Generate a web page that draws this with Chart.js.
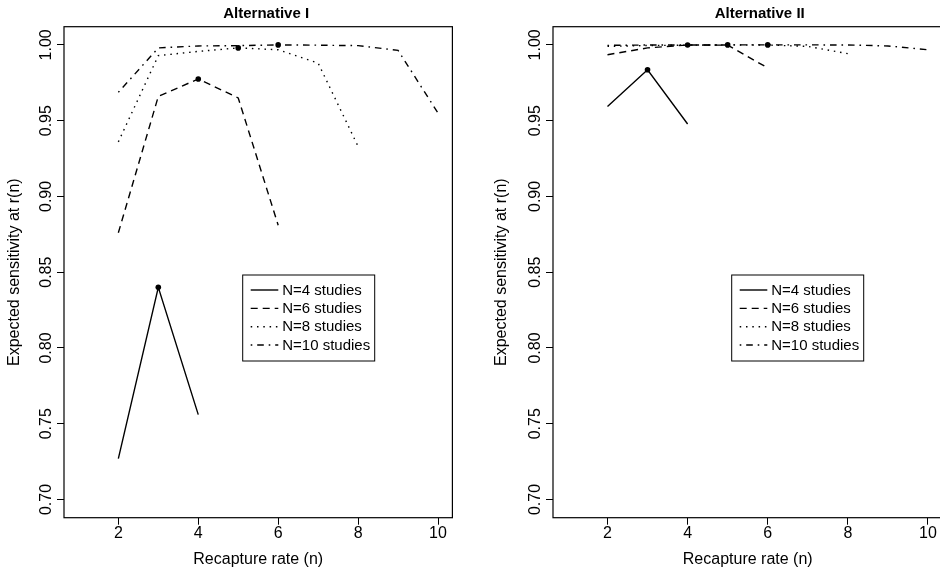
<!DOCTYPE html>
<html><head><meta charset="utf-8">
<script src="https://cdn.jsdelivr.net/npm/chart.js@4/dist/chart.umd.min.js"></script>
<style>
html,body{margin:0;padding:0;background:#fff;overflow:hidden;width:940px;height:573px;position:relative;}
.w{position:absolute;top:0;height:573px;}
</style></head><body>
<div class="w" style="left:0;width:470px"><canvas id="c1" width="470" height="573"></canvas></div>
<div class="w" style="left:470px;width:490px"><canvas id="c2" width="490" height="573"></canvas></div>
<script>
// ---- data ----
const panelTitles = ['Alternative I', 'Alternative II'];
const seriesLabels = ['N=4 studies', 'N=6 studies', 'N=8 studies', 'N=10 studies'];
const n4 = [2, 3, 4];
const n6 = [2, 3, 4, 5, 6];
const n8 = [2, 3, 4, 5, 6, 7, 8];
const n10 = [2, 3, 4, 5, 6, 7, 8, 9, 10];
const altI_N4 = [0.727, 0.840, 0.756];
const altI_N6 = [0.876, 0.966, 0.9775, 0.965, 0.881];
const altI_N8 = [0.936, 0.9929, 0.9957, 0.998, 0.9968, 0.988, 0.933];
const altI_N10 = [0.9687, 0.998, 0.9993, 0.9995, 1.0, 0.9998, 0.9995, 0.9964, 0.955];
const altII_N4 = [0.9594, 0.9836, 0.9478];
const altII_N6 = [0.9935, 0.998, 0.99995, 0.9998, 0.9848];
const altII_N8 = [0.999, 0.9996, 0.9998, 1.0, 0.9999, 0.999, 0.9942];
const altII_N10 = [0.9997, 0.9999, 0.99995, 0.99997, 1.0, 0.99998, 0.99996, 0.9993, 0.9968];
const xTicks = [2, 4, 6, 8, 10];
const yTicks = [0.70, 0.75, 0.80, 0.85, 0.90, 0.95, 1.00];
const xTitle = 'Recapture rate (n)';
const yTitle = 'Expected sensitivity at r(n)';

// ---- styles ----
const FONT = '"Liberation Sans", Arial, Helvetica, sans-serif';
Chart.defaults.font.family = FONT;
Chart.defaults.color = '#000';
const dashes = [[], [7, 5], [1.5, 4.8], [1.6, 4.9, 6.6, 4.9]];
const xsList = [n4, n6, n8, n10];

function makeDatasets(vals) {
  return xsList.map((xs, k) => ({
    label: seriesLabels[k],
    data: xs.map((x, i) => ({ x: x, y: vals[k][i] })),
    borderColor: '#000',
    borderWidth: 1.4,
    borderDash: dashes[k],
    fill: false,
    tension: 0,
    pointRadius: ctx => {
      const d = ctx.dataset.data;
      let m = 0;
      d.forEach((p, i) => { if (p.y > d[m].y) m = i; });
      return ctx.dataIndex === m ? 2.8 : 0;
    },
    pointBackgroundColor: '#000',
    pointBorderWidth: 0,
    pointHoverRadius: 0
  }));
}

const decorPlugin = {
  id: 'decor',
  afterDraw(chart, args, opts) {
    const { ctx, chartArea: a } = chart;
    ctx.save();
    // frame
    ctx.strokeStyle = '#000';
    ctx.lineWidth = 1.2;
    ctx.setLineDash([]);
    ctx.strokeRect(a.left, a.top, a.right - a.left, a.bottom - a.top);
    // title
    ctx.fillStyle = '#000';
    ctx.font = 'bold 15px ' + FONT;
    ctx.textAlign = 'center';
    ctx.textBaseline = 'alphabetic';
    ctx.fillText(opts.title, (a.left + a.right) / 2 + opts.titleShift, 18.3);
    // legend
    const bx = a.left + 178.7, by = 275, bw = 132, bh = 86;
    ctx.lineWidth = 1;
    ctx.strokeStyle = '#000';
    ctx.strokeRect(bx, by, bw, bh);
    ctx.font = '15px ' + FONT;
    ctx.textAlign = 'left';
    ctx.textBaseline = 'middle';
    chart.data.datasets.forEach((ds, i) => {
      const y = by + 15 + i * 18.35;
      ctx.save();
      ctx.lineWidth = ds.borderWidth;
      ctx.setLineDash(ds.borderDash);
      ctx.beginPath();
      ctx.moveTo(bx + 8, y);
      ctx.lineTo(bx + 35.6, y);
      ctx.stroke();
      ctx.restore();
      ctx.fillText(ds.label, bx + 39.5, y + 0.5);
    });
    ctx.restore();
  }
};

function makeChart(id, vals, title, titleShift, yAxisWidth, yTitlePad) {
  return new Chart(document.getElementById(id), {
    type: 'line',
    data: { datasets: makeDatasets(vals) },
    plugins: [decorPlugin],
    options: {
      responsive: false,
      animation: false,
      devicePixelRatio: 1,
      layout: { padding: { left: 0, right: 17.6, top: 26.7, bottom: 0 } },
      plugins: {
        legend: { display: false },
        tooltip: { enabled: false },
        decor: { title: title, titleShift: titleShift }
      },
      scales: {
        x: {
          type: 'linear', min: 0.64, max: 10.36,
          afterBuildTicks: s => { s.ticks = xTicks.map(v => ({ value: v })); },
          afterFit: s => { s.height = 55.3; },
          grid: { display: true, drawOnChartArea: false, drawTicks: true, tickLength: 7, color: '#000', lineWidth: 1 },
          border: { display: false },
          ticks: { autoSkip: false, maxRotation: 0, padding: -1, color: '#000', font: { size: 16 }, callback: v => String(v) },
          title: { display: true, text: xTitle, color: '#000', font: { size: 16 }, padding: { top: 0, bottom: 3.4 } }
        },
        y: {
          type: 'linear', min: 0.688, max: 1.012,
          afterBuildTicks: s => { s.ticks = yTicks.map(v => ({ value: v })); },
          afterFit: s => { s.width = yAxisWidth; },
          grid: { display: true, drawOnChartArea: false, drawTicks: true, tickLength: 7, color: '#000', lineWidth: 1 },
          border: { display: false },
          ticks: { autoSkip: false, minRotation: 90, maxRotation: 90, crossAlign: 'center', padding: -5.3, color: '#000', font: { size: 16 }, callback: v => v.toFixed(2) },
          title: { display: true, text: yTitle, color: '#000', font: { size: 16 }, padding: { top: yTitlePad, bottom: 0 } }
        }
      }
    }
  });
}

makeChart('c1', [altI_N4, altI_N6, altI_N8, altI_N10], panelTitles[0], 8, 64, 5.4);
makeChart('c2', [altII_N4, altII_N6, altII_N8, altII_N10], panelTitles[1], 12, 83, 22.4);
</script>
</body></html>
